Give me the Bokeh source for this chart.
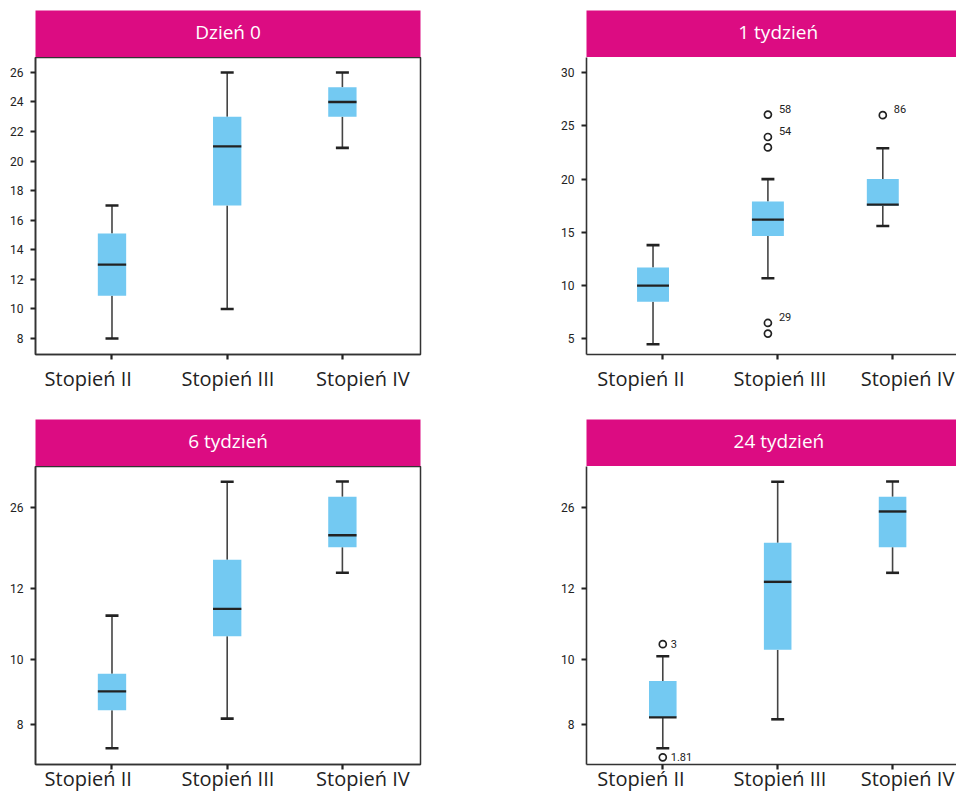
import numpy as np
from bokeh.plotting import figure
from bokeh.models import ColumnDataSource, Range1d, LinearAxis, FixedTicker
from bokeh.layouts import row, column
from bokeh.core.properties import value
from bokeh.transform import dodge
from bokeh.embed import file_html
from bokeh.resources import INLINE

# ---------------- data ----------------
CATEGORIES = ["Stopień II", "Stopień III", "Stopień IV"]
PANEL_TITLES = ["Dzień 0", "1 tydzień", "6 tydzień", "24 tydzień"]

# Dzień 0
D0_LOW = [8.0, 10.0, 20.9]
D0_Q1 = [10.9, 17.0, 23.0]
D0_MED = [13.0, 21.0, 24.0]
D0_Q3 = [15.1, 23.0, 25.0]
D0_HIGH = [17.0, 26.0, 26.0]

# 1 tydzień
W1_LOW = [4.5, 10.7, 15.6]
W1_Q1 = [8.5, 14.65, 17.5]
W1_MED = [10.0, 16.2, 17.6]
W1_Q3 = [11.7, 17.9, 20.0]
W1_HIGH = [13.8, 20.0, 22.9]
W1_OUT_CAT = ["Stopień III", "Stopień III", "Stopień III", "Stopień III", "Stopień III", "Stopień IV"]
W1_OUT_VAL = [26.05, 23.95, 22.97, 6.5, 5.5, 26.0]
W1_OUT_LBL = ["58", "54", "", "29", "", "86"]

# 6 tydzień (values on the chart's own, non-uniform axis)
W6_LOW = [7.27, 8.18, 14.66]
W6_Q1 = [8.44, 10.65, 19.09]
W6_MED = [9.02, 11.42, 21.16]
W6_Q3 = [9.56, 16.9, 27.8]
W6_HIGH = [11.23, 30.4, 30.44]

# 24 tydzień
W24_LOW = [7.27, 8.16, 14.66]
W24_Q1 = [8.22, 10.27, 19.09]
W24_MED = [8.22, 13.1, 25.26]
W24_Q3 = [9.34, 19.85, 27.8]
W24_HIGH = [10.09, 30.4, 30.44]
W24_OUT_CAT = ["Stopień II", "Stopień II"]
W24_OUT_VAL = [10.43, 6.99]
W24_OUT_LBL = ["3", "1.81"]

# axes
TICKS_D0 = [8, 10, 12, 14, 16, 18, 20, 22, 24, 26]
TICKS_W1 = [5, 10, 15, 20, 25, 30]
TICKS_BOTTOM = [8, 10, 12, 26]
# the lower charts use an uneven axis: where each tick label sits on a 0..298 scale
AXIS_BREAKS = [40.0, 105.0, 176.3, 257.3]
BOTTOM_SPAN = (0.0, 298.0)

# ---------------- styles ----------------
MAGENTA = "#DC0C82"
BLUE = "#73C9F2"
DARK = "#222222"
STEM = "#444444"
LABEL_FONT = "Open Sans"
TICK_FONT = "Roboto"
SMALL_FONT = "Liberation Sans Narrow, Roboto"


def identity(v):
    return np.asarray(v, dtype=float)


def bottom_axis(v):
    v = np.asarray(v, dtype=float)
    out = np.interp(v, TICKS_BOTTOM, AXIS_BREAKS)
    lo = v < TICKS_BOTTOM[0]
    s_lo = (AXIS_BREAKS[1] - AXIS_BREAKS[0]) / (TICKS_BOTTOM[1] - TICKS_BOTTOM[0])
    out[lo] = AXIS_BREAKS[0] + (v[lo] - TICKS_BOTTOM[0]) * s_lo
    hi = v > TICKS_BOTTOM[-1]
    s_hi = (AXIS_BREAKS[-1] - AXIS_BREAKS[-2]) / (TICKS_BOTTOM[-1] - TICKS_BOTTOM[-2])
    out[hi] = AXIS_BREAKS[-1] + (v[hi] - TICKS_BOTTOM[-1]) * s_hi
    return out


PX_PER_UNIT = 115.2
X_START = 0.336


def header(title, width, border_left, border_right, height, border_top, tx):
    h = figure(width=width, height=height, x_range=Range1d(0, 1), y_range=Range1d(0, 1),
               toolbar_location=None, output_backend="svg",
               min_border_left=border_left, min_border_right=border_right,
               min_border_top=border_top, min_border_bottom=0,
               x_axis_type=None, y_axis_type=None,
               background_fill_color=MAGENTA, border_fill_color="white",
               outline_line_color=None)
    h.grid.visible = False
    h.text(x=[tx], y=[0.55], text=[title], text_align="center", text_baseline="middle",
           text_color="white", text_font=value(LABEL_FONT), text_font_size="19px")
    return h


def panel(low, q1, med, q3, high, transform, yr, ticks, width, border_left, border_right,
          height, border_bottom, label_pos, label_standoff, box_w, shift,
          outline, out_cat=None, out_val=None, out_lbl=None, lbl_style=None):
    frame_w = width - border_left - border_right
    x_end = X_START + frame_w / PX_PER_UNIT
    p = figure(width=width, height=height,
               x_range=Range1d(X_START, x_end), y_range=Range1d(*yr),
               toolbar_location=None, output_backend="svg",
               min_border_left=border_left, min_border_right=border_right,
               min_border_top=0, min_border_bottom=border_bottom,
               background_fill_color="white", border_fill_color="white",
               outline_line_color="#333333" if outline else None,
               outline_line_width=1.5)
    p.grid.visible = False

    xs = np.arange(1, len(CATEGORIES) + 1)
    src = ColumnDataSource(dict(
        x=xs, low=transform(low), q1=transform(q1), med=transform(med),
        q3=transform(q3), high=transform(high)))

    cap = 13 / PX_PER_UNIT
    xc = dodge("x", shift)
    p.segment(x0=xc, y0="q3", x1=xc, y1="high", source=src, line_color=STEM, line_width=1.6)
    p.segment(x0=xc, y0="q1", x1=xc, y1="low", source=src, line_color=STEM, line_width=1.6)
    p.vbar(x=xc, width=box_w, bottom="q1", top="q3", source=src,
           fill_color=BLUE, line_color=None)
    p.segment(x0=dodge("x", shift - box_w / 2), x1=dodge("x", shift + box_w / 2),
              y0="med", y1="med", source=src, line_color=DARK, line_width=2.4)
    for f in ("high", "low"):
        p.segment(x0=dodge("x", shift - cap / 2), x1=dodge("x", shift + cap / 2),
                  y0=f, y1=f, source=src, line_color=DARK, line_width=2.6)

    if out_cat is not None:
        ox = [CATEGORIES.index(c) + 1 for c in out_cat]
        osrc = ColumnDataSource(dict(x=ox, val=transform(out_val)))
        p.scatter(x=xc, y="val", source=osrc, marker="circle", size=7,
                  fill_color="white", line_color=DARK, line_width=1.7)
        keep = [i for i, t in enumerate(out_lbl) if t]
        lsrc = ColumnDataSource(dict(
            x=[ox[i] for i in keep],
            val=transform([out_val[i] for i in keep]),
            lbl=[out_lbl[i] for i in keep]))
        p.text(x=xc, y="val", text="lbl", source=lsrc, text_font=value(SMALL_FONT),
               text_font_size="11px", text_color=DARK, text_align="left",
               **lbl_style)

    # x axis: tick marks only (labels not painted)
    xa = p.xaxis[0]
    xa.ticker = FixedTicker(ticks=list(xs))
    xa.major_label_text_color = None
    xa.major_label_text_font_size = "1px"
    xa.major_label_standoff = 0
    xa.major_tick_out = 5
    xa.major_tick_in = 0
    xa.minor_tick_out = 0
    xa.minor_tick_in = 0
    xa.axis_line_color = "#333333"
    xa.axis_line_width = 1.6
    xa.major_tick_line_color = DARK
    xa.major_tick_line_width = 2.2

    # x axis: category names
    la = LinearAxis(ticker=FixedTicker(ticks=label_pos),
                    major_label_overrides={lp: c for lp, c in zip(label_pos, CATEGORIES)},
                    axis_line_color=None, major_tick_line_color=None,
                    minor_tick_line_color=None, major_tick_out=0, major_tick_in=0,
                    minor_tick_out=0, minor_tick_in=0,
                    major_label_standoff=label_standoff,
                    major_label_text_font=LABEL_FONT,
                    major_label_text_font_size="20px",
                    major_label_text_color=DARK)
    p.add_layout(la, "below")

    # y axis
    ya = p.yaxis[0]
    tick_pos = [float(t) for t in transform(ticks)]
    ya.ticker = FixedTicker(ticks=tick_pos)
    ya.major_label_overrides = {tp: str(t) for tp, t in zip(tick_pos, ticks)}
    ya.major_tick_out = 5
    ya.major_tick_in = 0
    ya.minor_tick_out = 0
    ya.minor_tick_in = 0
    ya.major_label_standoff = 7
    ya.major_label_text_font = TICK_FONT
    ya.major_label_text_font_size = "12px"
    ya.major_label_text_color = DARK
    ya.axis_line_color = "#333333"
    ya.axis_line_width = 1.6
    ya.major_tick_line_color = DARK
    ya.major_tick_line_width = 2.2
    return p


LEFT_W, LEFT_BL, LEFT_BR = 558, 35, 138
RIGHT_W, RIGHT_BL, RIGHT_BR = 398, 27, 0
LABELS_LEFT = [0.794, 2.006, 3.178]
LABELS_RIGHT = [0.81, 2.02, 3.13]

h_tl = header(PANEL_TITLES[0], LEFT_W, LEFT_BL, LEFT_BR, 57, 10, 0.5)
p_tl = panel(D0_LOW, D0_Q1, D0_MED, D0_Q3, D0_HIGH, identity, (6.92, 27.01), TICKS_D0,
             LEFT_W, LEFT_BL, LEFT_BR, 362, 65, LABELS_LEFT, 5, 0.246, 0.0, True)

h_tr = header(PANEL_TITLES[1], RIGHT_W, RIGHT_BL, RIGHT_BR, 57, 10, 0.518)
p_tr = panel(W1_LOW, W1_Q1, W1_MED, W1_Q3, W1_HIGH, identity, (3.54, 31.41), TICKS_W1,
             RIGHT_W, RIGHT_BL, RIGHT_BR, 362, 65, LABELS_RIGHT, 5, 0.278, -0.085, False,
             W1_OUT_CAT, W1_OUT_VAL, W1_OUT_LBL,
             dict(text_baseline="bottom", x_offset=11, y_offset=-2))

h_bl = header(PANEL_TITLES[2], LEFT_W, LEFT_BL, LEFT_BR, 47, 0, 0.5)
p_bl = panel(W6_LOW, W6_Q1, W6_MED, W6_Q3, W6_HIGH, bottom_axis, BOTTOM_SPAN, TICKS_BOTTOM,
             LEFT_W, LEFT_BL, LEFT_BR, 328, 30, LABELS_LEFT, -5, 0.246, 0.0, True)

h_br = header(PANEL_TITLES[3], RIGHT_W, RIGHT_BL, RIGHT_BR, 47, 0, 0.52)
p_br = panel(W24_LOW, W24_Q1, W24_MED, W24_Q3, W24_HIGH, bottom_axis, BOTTOM_SPAN, TICKS_BOTTOM,
             RIGHT_W, RIGHT_BL, RIGHT_BR, 328, 30, LABELS_RIGHT, -5, 0.24, 0.0, False,
             W24_OUT_CAT, W24_OUT_VAL, W24_OUT_LBL,
             dict(text_baseline="middle", x_offset=8, y_offset=0))

layout = row(column(h_tl, p_tl, h_bl, p_bl), column(h_tr, p_tr, h_br, p_br))

open("out.html", "w").write(file_html(layout, INLINE))
